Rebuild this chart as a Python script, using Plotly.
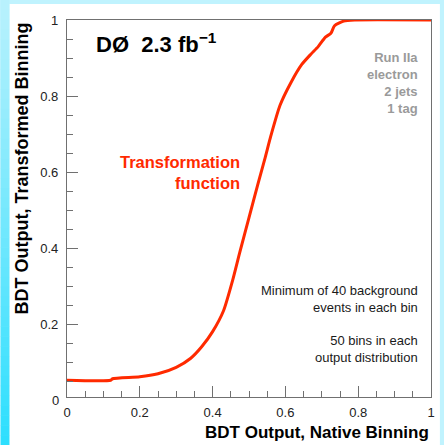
import plotly.graph_objects as go

# ---- data ----
bdt_native = [0.0, 0.12, 0.125, 0.20, 0.25, 0.30, 0.34, 0.37, 0.40, 0.43, 0.455, 0.475, 0.50,
              0.525, 0.545, 0.56, 0.585, 0.615, 0.645, 0.67, 0.69, 0.71, 0.725, 0.735,
              0.76, 0.79, 1.0]
bdt_transformed = [0.052, 0.052, 0.056, 0.061, 0.069, 0.086, 0.11, 0.14, 0.18, 0.235, 0.315, 0.39, 0.48,
                   0.57, 0.64, 0.695, 0.775, 0.835, 0.883, 0.91, 0.93, 0.955, 0.965, 0.985,
                   0.997, 1.0, 1.0]
x_ticks = [0, 0.2, 0.4, 0.6, 0.8, 1.0]
x_ticktext = ["0", "0.2", "0.4", "0.6", "0.8", "1"]
y_ticks = [0.2, 0.4, 0.6, 0.8, 1.0]
y_ticktext = ["0.2", "0.4", "0.6", "0.8", "1"]

W, H = 444, 445
L, R, T, B = 67, 9, 20, 48
PW, PH = W - L - R, H - T - B
YMIN = 0.008

def px2x(px):
    return (px - L) / PW

def py2y(py):
    return (H - B - py) / PH

FONT = "Liberation Sans, Arial, sans-serif"
RED = "#ff2a00"
AX = "#707070"

fig = go.Figure()
fig.add_trace(go.Scatter(x=bdt_native, y=bdt_transformed, mode="lines",
                         line=dict(color=RED, width=3, shape="spline", smoothing=0.6),
                         cliponaxis=False, hoverinfo="skip", showlegend=False))

# background: light blue gradient frame + white panel
shapes = []
c0 = (0xb8, 0xf1, 0xfd)
c1 = (0x2e, 0xdf, 0xfe)
n = 45
for i in range(n):
    t = i / (n - 1)
    col = "rgb(%d,%d,%d)" % tuple(round(a + (b - a) * t) for a, b in zip(c0, c1))
    y0 = i * H / n
    y1 = (i + 1) * H / n + 0.5
    shapes.append(dict(type="rect", xref="paper", yref="paper", layer="below",
                       x0=px2x(0), x1=px2x(9), y0=py2y(y1), y1=py2y(y0),
                       fillcolor=col, line=dict(width=0)))
shapes.append(dict(type="rect", xref="paper", yref="paper", layer="below",
                   x0=px2x(9), x1=px2x(W), y0=py2y(4), y1=py2y(0),
                   fillcolor="#c0f3fe", line=dict(width=0)))
shapes.append(dict(type="rect", xref="paper", yref="paper", layer="below",
                   x0=px2x(9), x1=px2x(W), y0=py2y(H), y1=py2y(4),
                   fillcolor="white", line=dict(width=0)))

ann = []
ann.append(dict(text="BDT Output, Native Binning", xref="paper", yref="paper",
                x=1.0, y=py2y(432), xanchor="right", yanchor="middle", showarrow=False,
                font=dict(family=FONT, size=17, color="black", weight="bold")))
ann.append(dict(text="BDT Output, Transformed Binning", xref="paper", yref="paper",
                x=px2x(22), y=1.0, xanchor="center", yanchor="top", textangle=-90, showarrow=False,
                font=dict(family=FONT, size=18, color="black", weight="bold")))
ann.append(dict(text="0", xref="paper", yref="paper", x=px2x(61), y=py2y(400),
                xanchor="right", yanchor="middle", showarrow=False,
                font=dict(family=FONT, size=13, color="#222222")))
ann.append(dict(text="DØ\u00a0\u00a02.3 fb<sup>\u22121</sup>", xref="paper", yref="paper",
                x=px2x(94), y=py2y(43), xanchor="left", yanchor="middle", showarrow=False,
                font=dict(family=FONT, size=22, color="black", weight="bold")))
ann.append(dict(text="Run IIa<br>electron<br>2 jets<br>1 tag", xref="paper", yref="paper",
                x=px2x(424), y=py2y(83), xanchor="right", yanchor="middle", align="right",
                showarrow=False, font=dict(family=FONT, size=13, color="#9a9a9a", weight="bold")))
ann.append(dict(text="Transformation<br>function", xref="paper", yref="paper",
                x=px2x(244), y=py2y(172.5), xanchor="right", yanchor="middle", align="right",
                showarrow=False, font=dict(family=FONT, size=16.5, color=RED, weight="bold")))
ann.append(dict(text="Minimum of 40 background<br>events in each bin", xref="paper", yref="paper",
                x=px2x(424), y=py2y(298.5), xanchor="right", yanchor="middle", align="right",
                showarrow=False, font=dict(family=FONT, size=13, color="#1a1a1a")))
ann.append(dict(text="50 bins in each<br>output distribution", xref="paper", yref="paper",
                x=px2x(424), y=py2y(349), xanchor="right", yanchor="middle", align="right",
                showarrow=False, font=dict(family=FONT, size=13, color="#1a1a1a")))

axis_common = dict(showgrid=False, zeroline=False, showline=True, mirror=True,
                   linecolor=AX, linewidth=1.2, ticks="inside", tickcolor=AX, tickwidth=1,
                   ticklen=11, tickfont=dict(family=FONT, size=13, color="#222222"),
                   fixedrange=True)
fig.update_xaxes(range=[0, 1], tickmode="array", tickvals=x_ticks, ticktext=x_ticktext,
                 minor=dict(tick0=0, dtick=0.05, ticks="inside", ticklen=6, tickcolor=AX),
                 ticklabelstandoff=3, **axis_common)
fig.update_yaxes(range=[YMIN, 1], tickmode="array", tickvals=y_ticks, ticktext=y_ticktext,
                 minor=dict(tick0=0, dtick=0.05, ticks="inside", ticklen=6, tickcolor=AX),
                 ticklabelstandoff=5, **axis_common)

fig.update_layout(width=W, height=H, margin=dict(l=L, r=R, t=T, b=B, pad=0),
                  paper_bgcolor="#c0f3fe", plot_bgcolor="white",
                  shapes=shapes, annotations=ann, showlegend=False)

fig.write_html("out.html", config={"displayModeBar": False})
